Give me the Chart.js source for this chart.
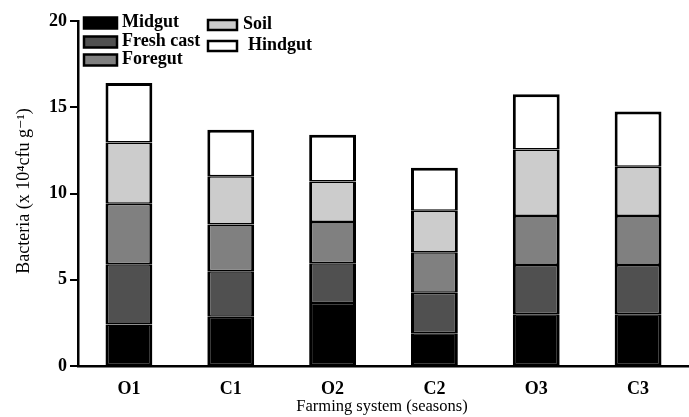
<!DOCTYPE html>
<html>
<head>
<meta charset="utf-8">
<script src="https://cdn.jsdelivr.net/npm/chart.js@4/dist/chart.umd.min.js"></script>
<style>
  html, body { margin: 0; padding: 0; background: #fff; }
  canvas { display: block; }
</style>
</head>
<body>
<canvas id="c" width="689" height="417"></canvas>
<script>
// Farming systems (organic / conventional, three seasons)
const categories = ['O1', 'C1', 'O2', 'C2', 'O3', 'C3'];

// Bacterial counts per compartment (x 10^4 cfu g^-1), stacked bottom to top
const midgut    = [2.4, 2.85, 3.65, 1.9, 3.0, 3.0];
const freshCast = [3.5, 2.65, 2.3, 2.35, 2.85, 2.85];
const foregut   = [3.5, 2.7, 2.4, 2.35, 2.85, 2.85];
const soil      = [3.55, 2.8, 2.35, 2.4, 3.85, 2.85];
const hindgut   = [3.45, 2.7, 2.7, 2.5, 3.2, 3.2];

const yTicks = [0, 5, 10, 15, 20];

const SERIF = '"Liberation Serif", "DejaVu Serif", serif';

const seriesDefs = [
  { label: 'Midgut',     data: midgut,    color: '#000000' },
  { label: 'Fresh cast', data: freshCast, color: '#505050' },
  { label: 'Foregut',    data: foregut,   color: '#808080' },
  { label: 'Soil',       data: soil,      color: '#cccccc' },
  { label: 'Hindgut',    data: hindgut,   color: '#ffffff' }
];

const datasets = seriesDefs.map((s, i) => ({
  label: s.label,
  data: s.data,
  backgroundColor: s.color,
  borderColor: '#000',
  borderWidth: { left: 3, right: 3, top: i === seriesDefs.length - 1 ? 3 : 1.5, bottom: 1.5 },
  borderSkipped: false,
  barPercentage: 0.46,
  categoryPercentage: 1.0
}));

// Legend laid out in two columns in the upper-left corner of the plot
const legendSlots = [
  { x: 84,  y: 23, w: 33, h: 11, tx: 122 },
  { x: 84,  y: 42, w: 33, h: 11, tx: 122 },
  { x: 84,  y: 60, w: 33, h: 11, tx: 122 },
  { x: 208, y: 25, w: 29, h: 10, tx: 243 },
  { x: 208, y: 46, w: 29, h: 10, tx: 248 }
];

const customDecor = {
  id: 'customDecor',
  afterDraw(chart) {
    const ctx = chart.ctx;
    ctx.save();
    // legend
    chart.data.datasets.forEach((ds, i) => {
      const s = legendSlots[i];
      ctx.fillStyle = ds.backgroundColor;
      ctx.fillRect(s.x, s.y - s.h / 2, s.w, s.h);
      ctx.strokeStyle = '#000';
      ctx.lineWidth = 2.5;
      ctx.strokeRect(s.x, s.y - s.h / 2, s.w, s.h);
      ctx.fillStyle = '#000';
      ctx.font = 'bold 18px ' + SERIF;
      ctx.textBaseline = 'middle';
      ctx.textAlign = 'left';
      ctx.fillText(ds.label, s.tx, s.y - 1);
    });
    // axis titles
    ctx.fillStyle = '#000';
    ctx.font = '16.5px ' + SERIF;
    ctx.textAlign = 'center';
    ctx.textBaseline = 'alphabetic';
    ctx.fillText('Farming system (seasons)', 382, 411);
    ctx.translate(24, 191);
    ctx.rotate(-Math.PI / 2);
    ctx.textBaseline = 'middle';
    ctx.font = '18px ' + SERIF;
    ctx.fillText('Bacteria (x 10\u2074cfu g\u207B\u00B9)', 0, 0);
    ctx.restore();
  }
};

new Chart(document.getElementById('c'), {
  type: 'bar',
  data: { labels: categories, datasets },
  options: {
    responsive: false,
    animation: false,
    layout: { padding: { top: 21, right: 0, left: 0, bottom: 0 } },
    plugins: { legend: { display: false }, tooltip: { enabled: false } },
    scales: {
      x: {
        stacked: true,
        grid: { display: false },
        border: { display: true, color: '#000', width: 2.5 },
        ticks: { color: '#000', font: { family: SERIF, size: 18, weight: 'bold' }, padding: 5 },
        afterFit(scale) { scale.height = 51; }
      },
      y: {
        stacked: true,
        min: 0,
        max: 20,
        afterBuildTicks(scale) { scale.ticks = yTicks.map(v => ({ value: v })); },
        grid: { display: true, drawOnChartArea: false, drawTicks: true, tickLength: 8, color: '#000', lineWidth: 2 },
        border: { display: true, color: '#000', width: 2.5 },
        ticks: { color: '#000', font: { family: SERIF, size: 18, weight: 'bold' }, padding: 3 },
        afterFit(scale) { scale.width = 78; }
      }
    }
  },
  plugins: [customDecor]
});
</script>
</body>
</html>
